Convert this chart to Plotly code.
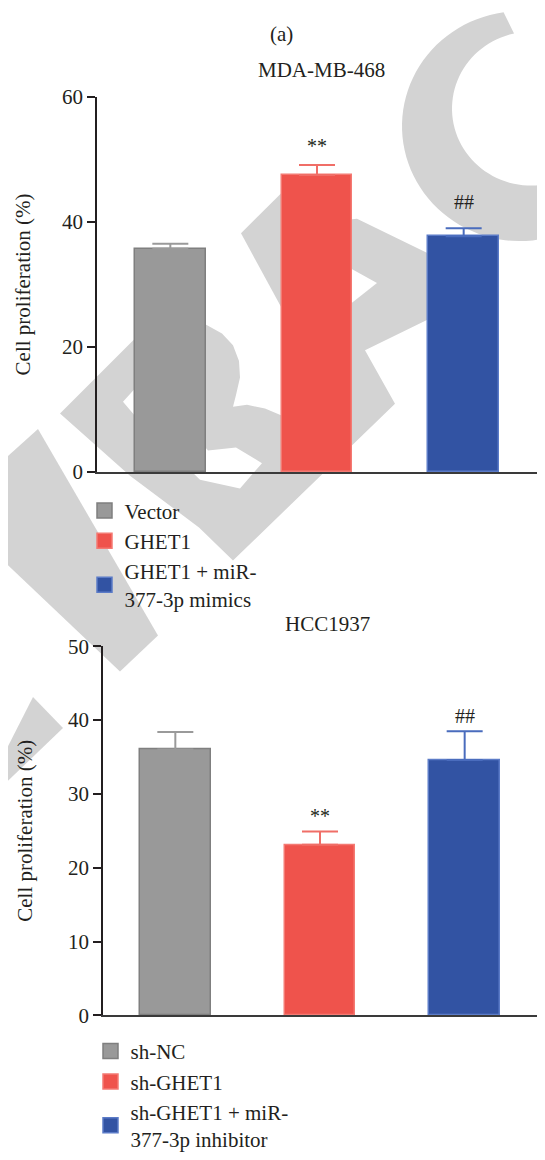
import numpy as np
import plotly.graph_objects as go

# ---- data ----
groups_top = ["Vector", "GHET1", "GHET1 + miR-<br>377-3p mimics"]
values_top = [35.7, 47.5, 37.7]
errors_top = [0.8, 1.6, 1.3]
marks_top = ["", "**", "##"]

groups_bot = ["sh-NC", "sh-GHET1", "sh-GHET1 + miR-<br>377-3p inhibitor"]
values_bot = [36.0, 23.1, 34.6]
errors_bot = [2.4, 1.8, 3.9]
marks_bot = ["", "**", "##"]

# ---- styling ----
# the page body has an 8px margin, so the figure is 16px smaller than the window
OFF = 8
WIN_W, WIN_H = 545, 1160
W, H = WIN_W - 2 * OFF, WIN_H - OFF
FONT = "Liberation Serif"
FS = 21
TXT = "#231f20"
fills = ["#999999", "#ef534c", "#3253a3"]
edges = ["#7f7f7f", "#f47a73", "#5b7bc7"]
whisk = ["#9a9a9a", "#f06e67", "#4a6cbd"]
mark_shift_top = [0, 6, 13]
mark_shift_bot = [0, 3, 2]


def px(x, y):
    # window pixel -> paper fraction
    return (x - OFF) / W, 1 - (y - OFF) / H


# watermark outlines in window pixels (decoration only)
wm_polys = [
    [(0, 463), (38, 428), (158, 640), (120, 677), (0, 560)],
    [(0, 770), (33, 703), (63, 735), (0, 797)],
    [(60, 412), (137, 333), (170, 300), (208, 322), (222, 330), (233, 342), (239, 358),
     (240, 375), (236, 393), (233, 405), (247, 403), (265, 407), (284, 415), (320, 360),
     (357, 300), (365, 347), (395, 402), (233, 563), (199, 529), (130, 476)],
    [(241, 227), (286, 181), (320, 210), (320, 320), (286, 312)],
    [(357, 212), (433, 250), (470, 268), (470, 300), (433, 313), (365, 347), (330, 340), (330, 215)],
]
wm_holes = [
    [(123, 400), (145, 375), (208, 450), (236, 447), (262, 463), (240, 489), (200, 480), (137, 417)],
    [(340, 257), (377, 278), (340, 308)],
]


def px_path(pts):
    out = []
    for x, y in pts:
        fx, fy = px(x, y)
        out.append(f"{fx:.5f},{fy:.5f}")
    return "M " + " L ".join(out) + " Z"


def ring_pts():
    a_out = np.radians(np.linspace(262, 30, 70))
    a_in = np.radians(np.linspace(30, 257.6, 70))
    outer = [(520 + 118 * np.cos(a), 117 + 118 * np.sin(a)) for a in a_out]
    inner = [(531 + 79 * np.cos(a), 99 + 79 * np.sin(a)) for a in a_in]
    return outer + inner


shapes = []
for poly in [ring_pts()] + wm_polys:
    shapes.append(dict(type="path", xref="paper", yref="paper", path=px_path(poly),
                       fillcolor="#d3d3d3", line=dict(width=0), layer="below"))
for poly in wm_holes:
    shapes.append(dict(type="path", xref="paper", yref="paper", path=px_path(poly),
                       fillcolor="white", line=dict(width=0), layer="below"))

fig = go.Figure()

panels = [
    (groups_top, values_top, errors_top, "x", "y", "legend", 0.48),
    (groups_bot, values_bot, errors_bot, "x2", "y2", "legend2", 0.49),
]
for groups, vals, errs, xa, ya, lg, bw in panels:
    for i, name in enumerate(groups):
        fig.add_trace(go.Bar(
            x=[i], y=[vals[i]], width=bw, xaxis=xa, yaxis=ya, showlegend=False,
            marker=dict(color=fills[i], line=dict(color=edges[i], width=1.5)),
            error_y=dict(type="data", array=[errs[i]], arrayminus=[0], symmetric=False,
                         color=whisk[i], thickness=2, width=18),
        ))
        # legend swatch
        fig.add_trace(go.Scatter(
            x=[None], y=[None], mode="markers", name=name, legend=lg,
            xaxis=xa, yaxis=ya,
            marker=dict(symbol="square", size=15, color=fills[i],
                        line=dict(color=edges[i], width=1.5)),
        ))

annotations = []
for vals, errs, marks, shifts, xa, ya in [
    (values_top, errors_top, marks_top, mark_shift_top, "x", "y"),
    (values_bot, errors_bot, marks_bot, mark_shift_bot, "x2", "y2"),
]:
    for i, m in enumerate(marks):
        if m:
            annotations.append(dict(x=i, y=vals[i] + errs[i], xref=xa, yref=ya, text=m,
                                    showarrow=False, yanchor="bottom", yshift=shifts[i],
                                    font=dict(family=FONT, size=FS - 1, color=TXT)))

for txt, tx, ty in [("(a)", 281, 22), ("MDA-MB-468", 321, 59), ("HCC1937", 327, 628)]:
    fx, fy = px(tx, ty)
    annotations.append(dict(x=fx, y=fy, xref="paper", yref="paper", text=txt,
                            showarrow=False, xanchor="center", yanchor="middle",
                            font=dict(family=FONT, size=FS, color=TXT)))

yaxis_common = dict(showline=True, linecolor="#231f20", linewidth=1.5, ticks="outside",
                    ticklen=8, tickwidth=1.5, tickcolor="#231f20", showgrid=False,
                    zeroline=False, tickfont=dict(family=FONT, size=FS, color=TXT))
xaxis_common = dict(range=[-0.5, 2.5], showline=True, linecolor="#3a3a3a", linewidth=2,
                    showticklabels=False, ticks="", showgrid=False, zeroline=False,
                    fixedrange=True)
ytitle = dict(text="Cell proliferation (%)", font=dict(family=FONT, size=FS, color=TXT))

legend_common = dict(bgcolor="rgba(0,0,0,0)", font=dict(family=FONT, size=FS, color=TXT),
                     xanchor="left", yanchor="top", itemsizing="trace", tracegroupgap=0)

x0_top, y0_top = px(97, 472)
x1_top, y1_top = px(545, 87)
x0_bot, y0_bot = px(103, 1030)
x1_bot, y1_bot = px(545, 651)
lx1, ly1 = px(84.5, 491)
lx2, ly2 = px(90.5, 1046)

fig.update_layout(
    width=W, height=H,
    margin=dict(l=0, r=0, t=0, b=0),
    paper_bgcolor="white", plot_bgcolor="rgba(0,0,0,0)",
    barmode="overlay", bargap=0,
    shapes=shapes, annotations=annotations,
    xaxis=dict(domain=[x0_top, 1], anchor="y", **xaxis_common),
    yaxis=dict(domain=[y0_top, y1_top], anchor="x", range=[0, 60],
               tickvals=[0, 20, 40, 60], title=dict(standoff=26, **ytitle), **yaxis_common),
    xaxis2=dict(domain=[x0_bot, 1], anchor="y2", **xaxis_common),
    yaxis2=dict(domain=[y0_bot, y1_bot], anchor="x2", range=[0, 50],
                tickvals=[0, 10, 20, 30, 40, 50], title=dict(standoff=30, **ytitle),
                **yaxis_common),
    legend=dict(x=lx1, y=ly1, **legend_common),
    legend2=dict(x=lx2, y=ly2, **legend_common),
    showlegend=True,
)

fig.write_html("out.html")
